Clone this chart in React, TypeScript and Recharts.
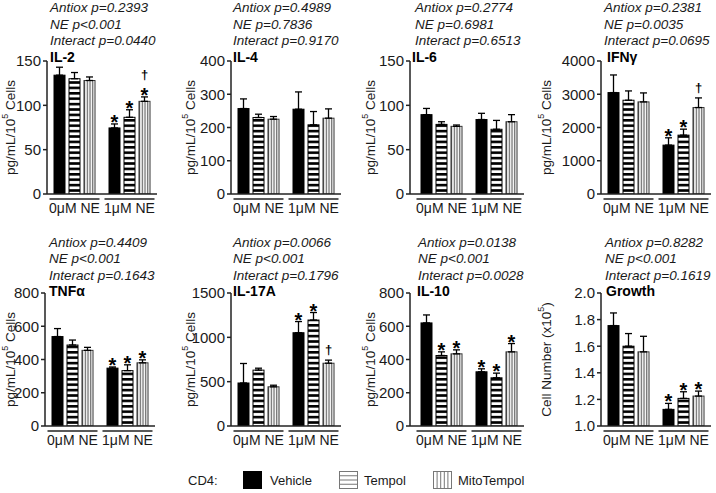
import React from 'react';
import { BarChart, Bar, XAxis, YAxis, ErrorBar } from 'recharts';

const FONT = '"Liberation Sans", Arial, Helvetica, sans-serif';
const TEXT = '#1a1a1a';
const AXIS = '#222';

const GROUPS = ['0μM NE', '1μM NE'];
const SERIES = ['Vehicle', 'Tempol', 'MitoTempol'];

// Each *_MEANS / *_SEM / *_MARKS row: [Vehicle, Tempol, MitoTempol], each holding [0μM NE, 1μM NE]
const IL2_MEANS = [[134, 74.5], [130, 86.5], [128, 104.5]];
const IL2_SEM = [[9, 4.5], [7, 8.5], [4, 5]];
const IL2_MARKS = [['', '*'], ['', '*'], ['', '*†']];
const IL2_TICKS = [0, 50, 100, 150];
const IL2_STATS = ['Antiox p=0.2393', 'NE p<0.001', 'Interact p=0.0440'];

const IL4_MEANS = [[257, 255], [230, 208], [225, 228]];
const IL4_SEM = [[29, 52], [10, 40], [8, 28]];
const IL4_MARKS = [['', ''], ['', ''], ['', '']];
const IL4_TICKS = [0, 100, 200, 300, 400];
const IL4_STATS = ['Antiox p=0.4989', 'NE p=0.7836', 'Interact p=0.9170'];

const IL6_MEANS = [[89.5, 84], [78.5, 73], [76.3, 81.5]];
const IL6_SEM = [[7, 7], [3, 10], [1.5, 8]];
const IL6_MARKS = [['', ''], ['', ''], ['', '']];
const IL6_TICKS = [0, 50, 100, 150];
const IL6_STATS = ['Antiox p=0.2774', 'NE p=0.6981', 'Interact p=0.6513'];

const IFNG_MEANS = [[3050, 1470], [2820, 1770], [2770, 2600]];
const IFNG_SEM = [[530, 220], [280, 180], [270, 290]];
const IFNG_MARKS = [['', '*'], ['', '*'], ['', '†']];
const IFNG_TICKS = [0, 1000, 2000, 3000, 4000];
const IFNG_STATS = ['Antiox p=0.2381', 'NE p=0.0035', 'Interact p=0.0695'];

const TNFA_MEANS = [[538, 348], [487, 333], [455, 380]];
const TNFA_SEM = [[48, 7], [30, 35], [18, 18]];
const TNFA_MARKS = [['', '*'], ['', '*'], ['', '*']];
const TNFA_TICKS = [0, 200, 400, 600, 800];
const TNFA_STATS = ['Antiox p=0.4409', 'NE p<0.001', 'Interact p=0.1643'];

const IL17A_MEANS = [[485, 1052], [630, 1195], [442, 708]];
const IL17A_SEM = [[220, 126], [22, 85], [18, 35]];
const IL17A_MARKS = [['', '*'], ['', '*'], ['', '†']];
const IL17A_TICKS = [0, 500, 1000, 1500];
const IL17A_STATS = ['Antiox p=0.0066', 'NE p<0.001', 'Interact p=0.1796'];

const IL10_MEANS = [[620, 326], [424, 290], [434, 446]];
const IL10_SEM = [[48, 18], [22, 28], [24, 50]];
const IL10_MARKS = [['', '*'], ['*', '*'], ['*', '*']];
const IL10_TICKS = [0, 200, 400, 600, 800];
const IL10_STATS = ['Antiox p=0.0138', 'NE p<0.001', 'Interact p=0.0028'];

const GROWTH_MEANS = [[1.755, 1.125], [1.6, 1.2075], [1.5575, 1.225]];
const GROWTH_SEM = [[0.095, 0.045], [0.095, 0.05], [0.117, 0.0375]];
const GROWTH_MARKS = [['', '*'], ['', '*'], ['', '*']];
const GROWTH_TICKS = [1.0, 1.2, 1.4, 1.6, 1.8, 2.0];
const GROWTH_STATS = ['Antiox p=0.8282', 'NE p<0.001', 'Interact p=0.1619'];

// layout
const PLOT_W = 110;
const PLOT_H = 133;
const YW = 60;
const TOP = 50;
const XH = 35;
const ROW_TOP = [61, 293];

const BAR_STYLES = [
  { fill: '#000', stroke: '#000' },
  { fill: 'url(#hstripe)', stroke: '#000' },
  { fill: 'url(#vstripe)', stroke: '#333' },
];

type PanelCfg = {
  title: string;
  means: number[][];
  sems: number[][];
  marks: string[][];
  ticks: number[];
  stats: string[];
  axisX: number;
  row: number;
  pad: number;
  labelOff: number;
  textX: number;
  titleX: number;
  yLabel: 'pg' | 'cell';
  decimals: number;
};

const PANELS: PanelCfg[] = [
  { title: 'IL-2', means: IL2_MEANS, sems: IL2_SEM, marks: IL2_MARKS, ticks: IL2_TICKS, stats: IL2_STATS, axisX: 47, row: 0, pad: 0, labelOff: 37, textX: 50, titleX: 50, yLabel: 'pg', decimals: 0 },
  { title: 'IL-4', means: IL4_MEANS, sems: IL4_SEM, marks: IL4_MARKS, ticks: IL4_TICKS, stats: IL4_STATS, axisX: 231, row: 0, pad: 0, labelOff: 41, textX: 233, titleX: 233, yLabel: 'pg', decimals: 0 },
  { title: 'IL-6', means: IL6_MEANS, sems: IL6_SEM, marks: IL6_MARKS, ticks: IL6_TICKS, stats: IL6_STATS, axisX: 410, row: 0, pad: 4, labelOff: 40, textX: 415, titleX: 412, yLabel: 'pg', decimals: 0 },
  { title: 'IFNγ', means: IFNG_MEANS, sems: IFNG_SEM, marks: IFNG_MARKS, ticks: IFNG_TICKS, stats: IFNG_STATS, axisX: 601, row: 0, pad: 0, labelOff: 55, textX: 604, titleX: 607, yLabel: 'pg', decimals: 0 },
  { title: 'TNFα', means: TNFA_MEANS, sems: TNFA_SEM, marks: TNFA_MARKS, ticks: TNFA_TICKS, stats: TNFA_STATS, axisX: 45, row: 1, pad: 0, labelOff: 35, textX: 49, titleX: 49, yLabel: 'pg', decimals: 0 },
  { title: 'IL-17A', means: IL17A_MEANS, sems: IL17A_SEM, marks: IL17A_MARKS, ticks: IL17A_TICKS, stats: IL17A_STATS, axisX: 231, row: 1, pad: 0, labelOff: 41, textX: 233, titleX: 233, yLabel: 'pg', decimals: 0 },
  { title: 'IL-10', means: IL10_MEANS, sems: IL10_SEM, marks: IL10_MARKS, ticks: IL10_TICKS, stats: IL10_STATS, axisX: 410, row: 1, pad: 4, labelOff: 40, textX: 418, titleX: 417, yLabel: 'pg', decimals: 0 },
  { title: 'Growth', means: GROWTH_MEANS, sems: GROWTH_SEM, marks: GROWTH_MARKS, ticks: GROWTH_TICKS, stats: GROWTH_STATS, axisX: 601, row: 1, pad: 0, labelOff: 55, textX: 605, titleX: 606, yLabel: 'cell', decimals: 1 },
];

function GroupTick(props: any) {
  const { x, y, payload } = props;
  return (
    <g>
      <line x1={x - 25} x2={x + 25} y1={y + 5} y2={y + 5} stroke={AXIS} strokeWidth={1.5} />
      <text x={x} y={y + 19} textAnchor="middle" fontSize={14} fill={TEXT} fontFamily={FONT}>
        {payload.value}
      </text>
    </g>
  );
}

function makeShape(k: number, sems: number[], marks: string[], ppu: number) {
  const st = BAR_STYLES[k];
  return (props: any) => {
    const { x, y, width, height, index } = props;
    const top = Math.min(y, y + height);
    const h = Math.abs(height);
    const errTop = top - sems[index] * ppu;
    const mark = marks[index] || '';
    const cx = x + width / 2;
    const hasStar = mark.includes('*');
    const hasDagger = mark.includes('†');
    return (
      <g>
        <rect x={x} y={top} width={width} height={h} fill={st.fill} stroke={st.stroke} strokeWidth={1} />
        {hasStar && (
          <text x={cx} y={errTop + 5} textAnchor="middle" fontSize={20} fontWeight="bold" fill="#000" fontFamily={FONT}>*</text>
        )}
        {hasDagger && (
          <text x={cx} y={hasStar ? errTop - 18 : errTop - 6} textAnchor="middle" fontSize={13} fontWeight="bold" fill="#000" fontFamily={FONT}>†</text>
        )}
      </g>
    );
  };
}

function Panel({ cfg }: { cfg: PanelCfg }) {
  const { means, sems, marks, ticks, axisX, row, pad, decimals } = cfg;
  const dmin = ticks[0];
  const dmax = ticks[ticks.length - 1];
  const ppu = PLOT_H / (dmax - dmin);
  const data = GROUPS.map((g, i) => ({
    group: g,
    v0: means[0][i],
    v1: means[1][i],
    v2: means[2][i],
    e0: [0, sems[0][i]],
    e1: [0, sems[1][i]],
    e2: [0, sems[2][i]],
  }));
  const width = YW + PLOT_W + pad + 6;
  const height = TOP + PLOT_H + XH;
  return (
    <div style={{ position: 'absolute', left: axisX - YW, top: ROW_TOP[row] - TOP, width, height }}>
      <BarChart
        width={width}
        height={height}
        data={data}
        margin={{ top: TOP, right: 6, left: 0, bottom: 0 }}
        barSize={11}
        barGap={4}
      >
        <XAxis
          dataKey="group"
          height={XH}
          tickLine={false}
          tickSize={0}
          tickMargin={0}
          interval={0}
          padding={{ left: pad, right: 0 }}
          axisLine={{ stroke: AXIS, strokeWidth: 1.5 }}
          tick={<GroupTick />}
        />
        <YAxis
          type="number"
          width={YW}
          domain={[dmin, dmax]}
          ticks={ticks}
          allowDataOverflow
          interval={0}
          tickSize={4}
          tickMargin={2}
          axisLine={{ stroke: AXIS, strokeWidth: 1.5 }}
          tickLine={{ stroke: AXIS, strokeWidth: 1.5 }}
          tick={{ fontSize: 15, fill: TEXT, fontFamily: FONT }}
          tickFormatter={(v: number) => v.toFixed(decimals)}
        />
        {BAR_STYLES.map((s, k) => (
          <Bar
            key={k}
            dataKey={`v${k}`}
            name={SERIES[k]}
            fill={s.fill}
            stroke={s.stroke}
            isAnimationActive={false}
            shape={makeShape(k, sems[k], marks[k], ppu)}
          >
            <ErrorBar dataKey={`e${k}`} width={3.5} stroke="#000" strokeWidth={1.3} direction="y" />
          </Bar>
        ))}
      </BarChart>
    </div>
  );
}

function YLabelText({ kind }: { kind: 'pg' | 'cell' }) {
  if (kind === 'cell') {
    return (
      <>
        <tspan>Cell Number (x10</tspan>
        <tspan dy={-5} fontSize={9}>5</tspan>
        <tspan dy={5}>)</tspan>
      </>
    );
  }
  return (
    <>
      <tspan>pg/mL/10</tspan>
      <tspan dy={-5} fontSize={9}>5</tspan>
      <tspan dy={5}> Cells</tspan>
    </>
  );
}

function Overlay() {
  const statBase = [[12, 29, 45], [247, 263, 280]];
  const titleBase = [62, 296];
  return (
    <svg width={716} height={493} style={{ position: 'absolute', left: 0, top: 0, pointerEvents: 'none' }}>
      {PANELS.map((p, i) => (
        <g key={i} fontFamily={FONT} fill={TEXT}>
          {p.stats.map((s, j) => (
            <text key={j} x={p.textX} y={statBase[p.row][j]} fontSize={13.5} fontStyle="italic">{s}</text>
          ))}
          <text x={p.titleX} y={titleBase[p.row]} fontSize={14} fontWeight="bold" fill="#000">{p.title}</text>
          <text
            transform={`translate(${p.axisX - p.labelOff},${ROW_TOP[p.row] + PLOT_H / 2}) rotate(-90)`}
            textAnchor="middle"
            dominantBaseline="central"
            fontSize={13.5}
          >
            <YLabelText kind={p.yLabel} />
          </text>
        </g>
      ))}
      <g fontFamily={FONT} fill={TEXT} fontSize={13}>
        <text x={188} y={485}>CD4:</text>
        <rect x={243} y={471} width={19} height={18} fill="#000" />
        <text x={270} y={485}>{SERIES[0]}</text>
        <rect x={339.5} y={471.5} width={18} height={17} fill="#fff" stroke="#777" strokeWidth={1} />
        {[1, 2, 3].map((k) => (
          <line key={k} x1={339.5} x2={357.5} y1={471.5 + (17 / 4) * k} y2={471.5 + (17 / 4) * k} stroke="#777" strokeWidth={1} />
        ))}
        <text x={364} y={485}>{SERIES[1]}</text>
        <rect x={433.5} y={471.5} width={18} height={17} fill="#fff" stroke="#777" strokeWidth={1} />
        {[1, 2, 3, 4].map((k) => (
          <line key={k} x1={433.5 + (18 / 5) * k} x2={433.5 + (18 / 5) * k} y1={471.5} y2={488.5} stroke="#777" strokeWidth={1} />
        ))}
        <text x={458} y={485}>{SERIES[2]}</text>
      </g>
    </svg>
  );
}

export default function App() {
  return (
    <div style={{ position: 'absolute', left: 0, top: 0, width: 716, height: 493, background: '#fff', fontFamily: FONT }}>
      <svg width={0} height={0} style={{ position: 'absolute' }}>
        <defs>
          <pattern id="hstripe" patternUnits="userSpaceOnUse" width={10} height={5.4}>
            <rect width={10} height={5.4} fill="#fff" />
            <rect width={10} height={2.6} fill="#000" />
          </pattern>
          <pattern id="vstripe" patternUnits="objectBoundingBox" width={0.25} height={1}>
            <rect width={20} height={1000} fill="#fff" />
            <rect x={0} width={1.1} height={1000} fill="#555" />
          </pattern>
        </defs>
      </svg>
      {PANELS.map((p, i) => (
        <Panel key={i} cfg={p} />
      ))}
      <Overlay />
    </div>
  );
}
